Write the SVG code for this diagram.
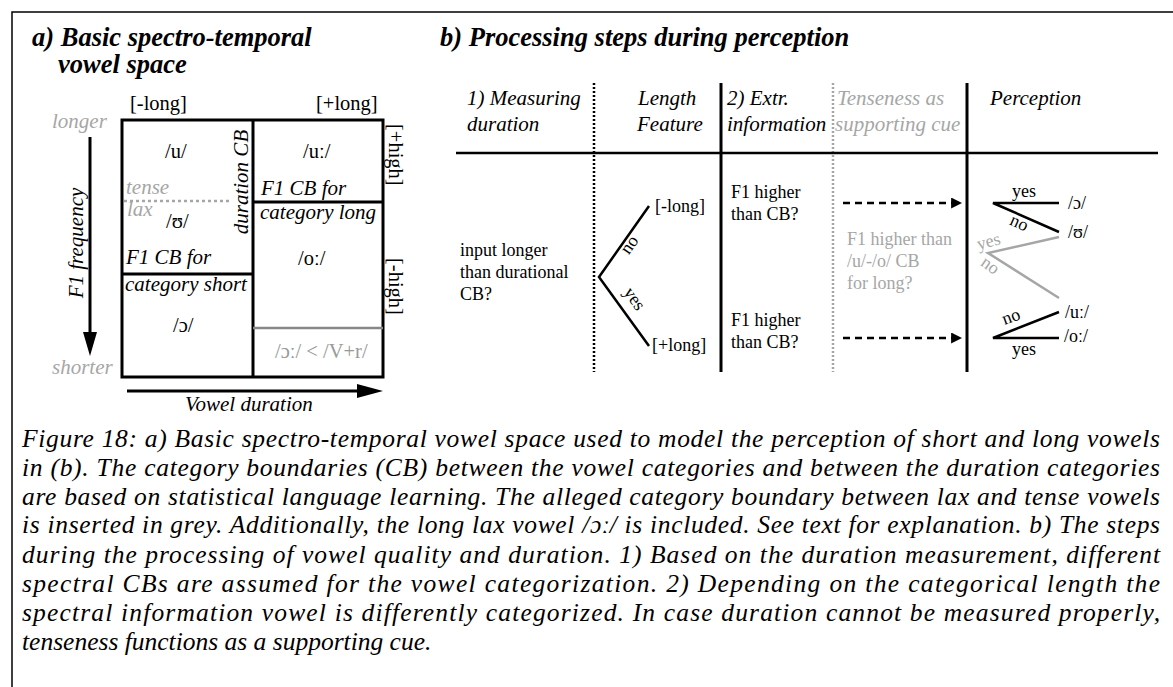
<svg xmlns="http://www.w3.org/2000/svg" width="1173" height="687" viewBox="0 0 1173 687" font-family="'Liberation Serif', 'DejaVu Serif', serif">
<style>
text{font-family:'Liberation Serif','DejaVu Serif',serif;fill:#000}
.t{font-size:26.5px;font-weight:bold;font-style:italic}
.a{font-size:20.5px}
.ai{font-size:21px;font-style:italic}
.g{fill:#a6a6a6}
.b{font-size:18px}
.h{font-size:21px;font-style:italic}
.c{font-size:25.5px;font-style:italic}
.ln{stroke:#000;stroke-width:2.5;fill:none}
.thick{stroke:#000;stroke-width:3;fill:none}
.gl{stroke:#a6a6a6;stroke-width:2.5;fill:none}
.dot{stroke:#000;stroke-width:2.5;stroke-dasharray:2 2;fill:none}
.gdot{stroke:#a6a6a6;stroke-width:2.5;stroke-dasharray:2 2;fill:none}
.dash{stroke:#000;stroke-width:2.5;stroke-dasharray:7 5;fill:none}
</style>
<defs>
<marker id="ah" viewBox="0 0 10 10" refX="9" refY="5" markerWidth="4.4" markerHeight="4.4" orient="auto" markerUnits="strokeWidth">
<path d="M0,0 L10,5 L0,10 z" fill="#000"/>
</marker>
</defs>
<rect x="12" y="12" width="1200" height="720" fill="none" stroke="#000" stroke-width="1.5"/>

<g id="panel-a">
<text class="t" x="32" y="46">a) Basic spectro-temporal</text>
<text class="t" x="58" y="73">vowel space</text>
<text class="a" x="130" y="110">[-long]</text>
<text class="a" x="316" y="110">[+long]</text>
<text class="ai g" x="52" y="128">longer</text>
<text class="ai g" x="52" y="374">shorter</text>
<rect x="122" y="120" width="261" height="257" class="thick"/>
<line x1="253" y1="120" x2="253" y2="377" class="thick"/>
<line x1="122" y1="274" x2="253" y2="274" class="thick"/>
<line x1="253" y1="202" x2="383" y2="202" class="thick"/>
<line x1="253" y1="328" x2="383" y2="328" stroke="#888" stroke-width="2.5"/>
<line x1="124" y1="201" x2="232" y2="201" stroke="#a6a6a6" stroke-width="2.5" stroke-dasharray="3 3"/>
<text class="a" x="165" y="158">/u/</text>
<text class="a" x="303" y="158">/uː/</text>
<text class="ai g" x="126" y="194">tense</text>
<text class="ai g" x="127" y="216">lax</text>
<text class="a" x="166" y="228">/ʊ/</text>
<text class="ai" x="126" y="264">F1 CB for</text>
<text class="ai" x="125" y="291">category short</text>
<text class="a" x="173" y="332">/ɔ/</text>
<text class="ai" x="261" y="195">F1 CB for</text>
<text class="ai" x="260" y="219">category long</text>
<text class="a" x="298" y="265">/oː/</text>
<text class="a" x="275" y="358" style="fill:#999">/ɔː/ &lt; /V+r/</text>
<text class="ai" transform="translate(248,182) rotate(-90)" text-anchor="middle">duration CB</text>
<text class="ai" transform="translate(83,243) rotate(-90)" text-anchor="middle">F1 frequency</text>
<text class="a" transform="translate(389,124) rotate(90)">[+high]</text>
<text class="a" transform="translate(389,258) rotate(90)">[-high]</text>
<line x1="90" y1="137" x2="90" y2="340" stroke="#000" stroke-width="3"/>
<polygon points="83,332 97,332 90,356" fill="#000"/>
<line x1="127" y1="391" x2="362" y2="391" stroke="#000" stroke-width="3"/>
<polygon points="357,384 357,398 383,391" fill="#000"/>
<text class="ai" x="185" y="411">Vowel duration</text>
</g>

<g id="panel-b-title">
<text class="t" x="440" y="46">b) Processing steps during perception</text>
</g>
<g id="grid">
<line x1="594" y1="83" x2="594" y2="372" class="dot"/>
<line x1="721" y1="83" x2="721" y2="372" class="thick"/>
<line x1="833" y1="83" x2="833" y2="372" class="gdot"/>
<line x1="967" y1="83" x2="967" y2="372" class="thick"/>
<line x1="456" y1="153" x2="1158" y2="153" class="ln"/>
</g>
<g id="headers">
<text class="h" x="467" y="105">1) Measuring</text>
<text class="h" x="467" y="131">duration</text>
<text class="h" x="638" y="105">Length</text>
<text class="h" x="637" y="131">Feature</text>
<text class="h" x="727" y="105">2) Extr.</text>
<text class="h" x="727" y="131">information</text>
<text class="h g" x="837" y="105">Tenseness as</text>
<text class="h g" x="835" y="131">supporting cue</text>
<text class="h" x="990" y="105">Perception</text>
</g>
<g id="node-input">
<text class="b" x="460" y="256">input longer</text>
<text class="b" x="460" y="278">than durational</text>
<text class="b" x="460" y="300">CB?</text>
</g>
<g id="node-short">
<text class="b" x="655" y="212">[-long]</text>
</g>
<g id="node-long">
<text class="b" x="652" y="351">[+long]</text>
</g>
<g id="node-f1-short">
<text class="b" x="731" y="198">F1 higher</text>
<text class="b" x="731" y="220">than CB?</text>
</g>
<g id="node-f1-long">
<text class="b" x="731" y="326">F1 higher</text>
<text class="b" x="731" y="348">than CB?</text>
</g>
<g id="node-tense">
<text class="b g" x="847" y="245">F1 higher than</text>
<text class="b g" x="847" y="267">/u/-/o/ CB</text>
<text class="b g" x="847" y="289">for long?</text>
</g>
<g id="node-perception">
<text class="b" x="1068" y="209">/ɔ/</text>
<text class="b" x="1068" y="238">/ʊ/</text>
<text class="b" x="1065" y="318">/uː/</text>
<text class="b" x="1064" y="342">/oː/</text>
</g>
<g id="connectors">
<path d="M649,206 L599,277 L649,346" class="ln"/>
<text class="b" transform="translate(634,248) rotate(-55)" text-anchor="middle">no</text>
<text class="b" transform="translate(630,302) rotate(55)" text-anchor="middle">yes</text>
<line x1="843" y1="203" x2="961" y2="203" class="dash" marker-end="url(#ah)"/>
<line x1="843" y1="338" x2="961" y2="338" class="dash" marker-end="url(#ah)"/>
<path d="M1059,203 L993,203 L1059,232" class="ln"/>
<text class="b" x="1024" y="197" text-anchor="middle">yes</text>
<text class="b" transform="translate(1017,228) rotate(24)" text-anchor="middle">no</text>
<path d="M1059,237 L988,253 L1059,298" class="gl"/>
<text class="b g" transform="translate(990,247) rotate(-15)" text-anchor="middle">yes</text>
<text class="b g" transform="translate(987,270) rotate(35)" text-anchor="middle">no</text>
<path d="M1059,312 L993,338 L1059,338" class="ln"/>
<text class="b" transform="translate(1013,322) rotate(-20)" text-anchor="middle">no</text>
<text class="b" x="1024" y="355" text-anchor="middle">yes</text>
</g>

<g id="caption">
<text class="c" x="22" y="447" textLength="1138" lengthAdjust="spacing">Figure 18: a) Basic spectro-temporal vowel space used to model the perception of short and long vowels</text>
<text class="c" x="22" y="476" textLength="1138" lengthAdjust="spacing">in (b). The category boundaries (CB) between the vowel categories and between the duration categories</text>
<text class="c" x="22" y="505" textLength="1138" lengthAdjust="spacing">are based on statistical language learning. The alleged category boundary between lax and tense vowels</text>
<text class="c" x="22" y="533" textLength="1138" lengthAdjust="spacing">is inserted in grey. Additionally, the long lax vowel /ɔː/ is included. See text for explanation. b) The steps</text>
<text class="c" x="22" y="563" textLength="1138" lengthAdjust="spacing">during the processing of vowel quality and duration. 1) Based on the duration measurement, different</text>
<text class="c" x="22" y="592" textLength="1138" lengthAdjust="spacing">spectral CBs are assumed for the vowel categorization. 2) Depending on the categorical length the</text>
<text class="c" x="22" y="621" textLength="1138" lengthAdjust="spacing">spectral information vowel is differently categorized. In case duration cannot be measured properly,</text>
<text class="c" x="22" y="650">tenseness functions as a supporting cue.</text>
</g>
</svg>
